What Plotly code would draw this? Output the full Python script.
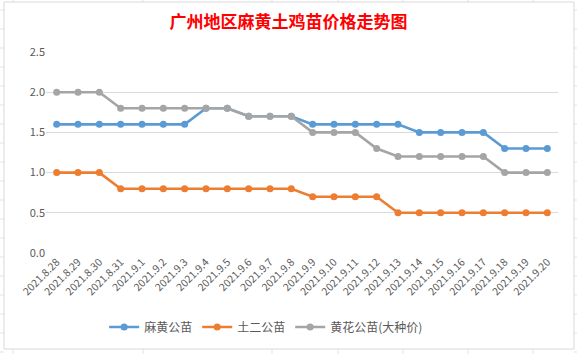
import plotly.graph_objects as go

dates = ["2021.8.28", "2021.8.29", "2021.8.30", "2021.8.31",
         "2021.9.1", "2021.9.2", "2021.9.3", "2021.9.4", "2021.9.5", "2021.9.6",
         "2021.9.7", "2021.9.8", "2021.9.9", "2021.9.10", "2021.9.11", "2021.9.12",
         "2021.9.13", "2021.9.14", "2021.9.15", "2021.9.16", "2021.9.17", "2021.9.18",
         "2021.9.19", "2021.9.20"]

mahuang = [1.6, 1.6, 1.6, 1.6, 1.6, 1.6, 1.6, 1.8, 1.8, 1.7, 1.7, 1.7,
           1.6, 1.6, 1.6, 1.6, 1.6, 1.5, 1.5, 1.5, 1.5, 1.3, 1.3, 1.3]
tuer = [1.0, 1.0, 1.0, 0.8, 0.8, 0.8, 0.8, 0.8, 0.8, 0.8, 0.8, 0.8,
        0.7, 0.7, 0.7, 0.7, 0.5, 0.5, 0.5, 0.5, 0.5, 0.5, 0.5, 0.5]
huanghua = [2.0, 2.0, 2.0, 1.8, 1.8, 1.8, 1.8, 1.8, 1.8, 1.7, 1.7, 1.7,
            1.5, 1.5, 1.5, 1.3, 1.2, 1.2, 1.2, 1.2, 1.2, 1.0, 1.0, 1.0]

series = [("麻黄公苗", mahuang, "#5B9BD5"),
          ("土二公苗", tuer, "#ED7D31"),
          ("黄花公苗(大种价)", huanghua, "#A5A5A5")]

font_family = "Noto Sans CJK SC, Microsoft YaHei, sans-serif"

W, H = 577, 354
L, R, T, B = 46, 19, 52, 101
PW, PH = W - L - R, H - T - B


def px_x(x):
    return (x - L) / PW


def px_y(y):
    return (H - B - y) / PH


fig = go.Figure()
for name, vals, color in series:
    fig.add_trace(go.Scatter(
        x=dates, y=vals, name=name, mode="lines+markers",
        line=dict(color=color, width=2.6),
        marker=dict(color=color, size=7),
    ))

fig.update_layout(
    width=W, height=H,
    margin=dict(l=L, r=R, t=T, b=B),
    paper_bgcolor="white", plot_bgcolor="white",
    font=dict(family=font_family, color="#595959", size=11),
    title=dict(text="广州地区麻黄土鸡苗价格走势图", x=0.5, xanchor="center",
               y=1 - 22 / H, yanchor="middle",
               font=dict(family=font_family, size=17, color="#FF0000", weight="bold")),
    xaxis=dict(type="category", tickangle=-45, showgrid=False, showline=False,
               ticks="", tickfont=dict(size=10.5, color="#595959"),
               range=[-0.5, len(dates) - 0.5]),
    yaxis=dict(range=[0, 2.5], dtick=0.5, tickformat=".1f", showgrid=True,
               gridcolor="#D9D9D9", gridwidth=1, zeroline=False, showline=False,
               ticks="", tickfont=dict(size=11, color="#595959")),
    legend=dict(orientation="h", x=0.43, xanchor="center", y=px_y(327), yanchor="middle",
                font=dict(size=12, color="#595959"), itemwidth=30, tracegroupgap=0),
    showlegend=True,
)

# spreadsheet cell lines around the chart object
cell = "#E3E3E3"
for k in range(19):
    yy = 10 + 19 * k
    fig.add_shape(type="line", xref="paper", yref="paper",
                  x0=px_x(0), x1=px_x(4), y0=px_y(yy), y1=px_y(yy),
                  line=dict(color=cell, width=1), layer="below")
    fig.add_shape(type="line", xref="paper", yref="paper",
                  x0=px_x(574), x1=px_x(577), y0=px_y(yy), y1=px_y(yy),
                  line=dict(color=cell, width=1), layer="below")
for xx in [13, 143, 272, 338, 403, 468, 533]:
    fig.add_shape(type="line", xref="paper", yref="paper",
                  x0=px_x(xx), x1=px_x(xx), y0=px_y(349), y1=px_y(354),
                  line=dict(color=cell, width=1), layer="below")
    fig.add_shape(type="line", xref="paper", yref="paper",
                  x0=px_x(xx), x1=px_x(xx), y0=px_y(0), y1=px_y(2),
                  line=dict(color=cell, width=1), layer="below")

# chart border
fig.add_shape(type="rect", xref="paper", yref="paper",
              x0=px_x(4), x1=px_x(574), y0=px_y(349), y1=px_y(2),
              line=dict(color="#D9D9D9", width=1), fillcolor="rgba(0,0,0,0)", layer="below")

fig.write_html("out.html")
